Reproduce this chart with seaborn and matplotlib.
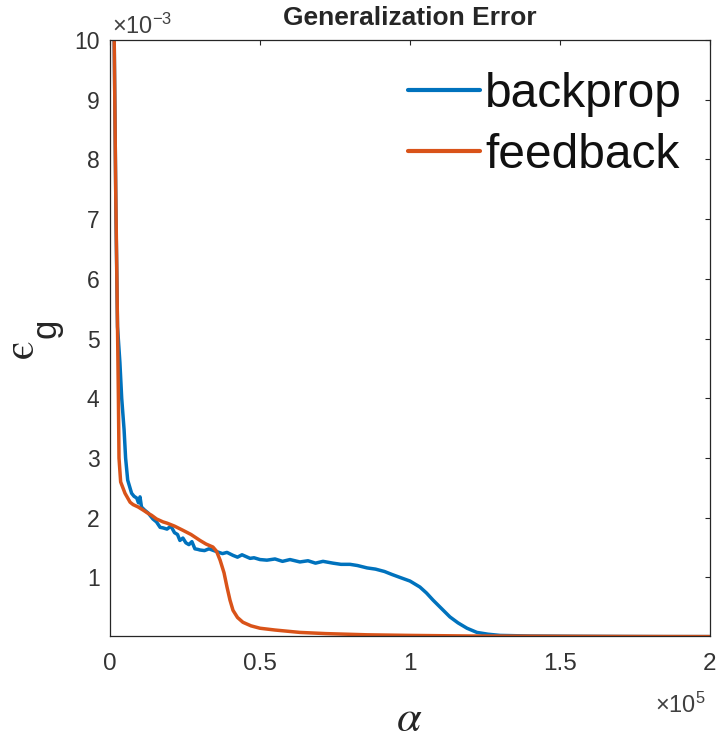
import numpy as np
import pandas as pd
import matplotlib
matplotlib.use("Agg")
import matplotlib.pyplot as plt
import seaborn as sns

# alpha values (x) and generalization error in units of 1e-3 (y)
bp_alpha = [1000, 1400, 2000, 2500, 3300, 3900, 4700, 5200, 5900, 7200, 8000, 8900, 9500,
            10000, 10500, 11500, 12700, 14300, 15500, 16700, 17700, 19000, 20300, 21500,
            22500, 23300, 24300, 25300, 26300, 27300, 28300, 29300, 30000, 31500, 33000,
            35700, 37500, 39000, 41000, 42500, 44000, 46700, 48000, 50000, 52300, 55000,
            57500, 60000, 63300, 66000, 68500, 71000, 74300, 77000, 80000, 82500, 85700,
            88500, 91500, 94000, 96700, 100000, 103300, 105500, 107700, 110500, 113300,
            116000, 119000, 122300, 126000, 130000, 140000, 155000, 170000, 185000, 200000]
bp_eps = [12.5, 10.0, 7.0, 5.2, 4.6, 4.0, 3.47, 3.0, 2.63, 2.41, 2.36, 2.33, 2.25,
          2.35, 2.18, 2.13, 2.08, 1.98, 1.93, 1.84, 1.83, 1.81, 1.86, 1.75, 1.72, 1.62,
          1.66, 1.58, 1.55, 1.6, 1.48, 1.47, 1.46, 1.45, 1.48, 1.43, 1.4, 1.42, 1.37,
          1.34, 1.38, 1.32, 1.33, 1.3, 1.29, 1.31, 1.27, 1.3, 1.26, 1.28, 1.24, 1.27,
          1.24, 1.22, 1.22, 1.2, 1.16, 1.14, 1.1, 1.05, 1.0, 0.94, 0.84, 0.74, 0.62,
          0.48, 0.34, 0.24, 0.15, 0.08, 0.05, 0.03, 0.02, 0.015, 0.012, 0.01, 0.01]

fb_alpha = [1000, 1400, 1900, 2300, 2550, 2800, 3000, 3550, 5000, 6700, 7700, 9400,
            11000, 12500, 13900, 15500, 17700, 19000, 21500, 24300, 27000, 30000, 32000,
            34300, 35500, 36700, 38000, 39000, 40000, 41000, 42500, 44300, 47000, 50000,
            55000, 63300, 72000, 85700, 100000, 120000, 150000, 175000, 200000]
fb_eps = [12.0, 10.0, 7.5, 6.0, 5.0, 4.0, 3.0, 2.6, 2.41, 2.26, 2.22, 2.18,
          2.13, 2.08, 2.04, 1.98, 1.93, 1.91, 1.86, 1.79, 1.72, 1.62, 1.56,
          1.51, 1.44, 1.29, 1.08, 0.84, 0.62, 0.45, 0.33, 0.25, 0.19, 0.15,
          0.12, 0.08, 0.06, 0.04, 0.03, 0.02, 0.015, 0.012, 0.01]

series_names = ["backprop", "feedback"]
x_ticks = [0, 0.5e5, 1e5, 1.5e5, 2e5]
x_tick_labels = ["0", "0.5", "1", "1.5", "2"]
y_ticks_e3 = [1, 2, 3, 4, 5, 6, 7, 8, 9, 10]

df = pd.concat([
    pd.DataFrame({"alpha": bp_alpha, "eps": np.array(bp_eps) * 1e-3, "method": series_names[0]}),
    pd.DataFrame({"alpha": fb_alpha, "eps": np.array(fb_eps) * 1e-3, "method": series_names[1]}),
], ignore_index=True)

sns.set_style("white")
plt.rcParams["font.family"] = ["Liberation Sans", "DejaVu Sans"]
plt.rcParams["mathtext.fontset"] = "custom"
plt.rcParams["mathtext.rm"] = "Liberation Sans"
plt.rcParams["mathtext.it"] = "Liberation Sans:italic"
plt.rcParams["mathtext.bf"] = "Liberation Sans:bold"

W, H = 718, 742
fig = plt.figure(figsize=(W / 100, H / 100), dpi=100)
ax = fig.add_axes([110 / W, 1 - 636 / H, 600 / W, 596 / H])

palette = {"backprop": "#0072BD", "feedback": "#D95319"}
sns.lineplot(data=df, x="alpha", y="eps", hue="method", palette=palette,
             linewidth=2.5, ax=ax, sort=False, estimator=None)

ax.set_xlim(0, 2e5)
ax.set_ylim(0.02e-3, 10e-3)
ax.set_xticks(x_ticks)
ax.set_xticklabels(x_tick_labels)
ax.set_yticks([v * 1e-3 for v in y_ticks_e3])
ax.set_yticklabels([str(v) for v in y_ticks_e3])

axis_col = "#262626"
for s in ax.spines.values():
    s.set_visible(True)
    s.set_color(axis_col)
    s.set_linewidth(0.9)
ax.tick_params(direction="in", length=3.6, width=0.8, colors=axis_col,
               top=True, right=True)
ax.tick_params(axis="x", labelsize=17.5, pad=12.5)
ax.tick_params(axis="y", labelsize=16.5, pad=7.5)
for lab in ax.get_xticklabels() + ax.get_yticklabels():
    lab.set_color("#333333")

ax.set_xlabel("")
ax.set_ylabel("")
ax.set_title("Generalization Error", fontsize=19, fontweight="bold", pad=11)

# offset (exponent) texts
fig.text(112 / W, 1 - 34 / H, "×10$^{-3}$", fontsize=17, color="#404040",
         ha="left", va="baseline")
fig.text(655 / W, 1 - 713 / H, "×10$^{5}$", fontsize=17, color="#404040",
         ha="left", va="baseline")

# axis labels
fig.text(409 / W, 1 - 731 / H, "α", family="STIXGeneral", style="italic",
         fontsize=32, ha="center", va="baseline", color="#262626")
fig.text(33 / W, 1 - 358 / H, "ϵ", family="STIXGeneral", fontsize=31,
         rotation=90, rotation_mode="anchor", ha="left", va="baseline", color="#262626")
fig.text(56 / W, 1 - 338 / H, "g", fontsize=25,
         rotation=90, rotation_mode="anchor", ha="left", va="baseline", color="#262626")

leg = ax.legend(loc="upper right", frameon=False, fontsize=34.5, handlelength=1.5,
                handletextpad=0.1, borderaxespad=0, borderpad=0, labelspacing=0.33,
                bbox_to_anchor=((682 - 110) / 600, 1 - (72 - 40) / 596))
for line in leg.get_lines():
    line.set_linewidth(3)
for t in leg.get_texts():
    t.set_color("#111111")

fig.savefig("out.png", dpi=100)
